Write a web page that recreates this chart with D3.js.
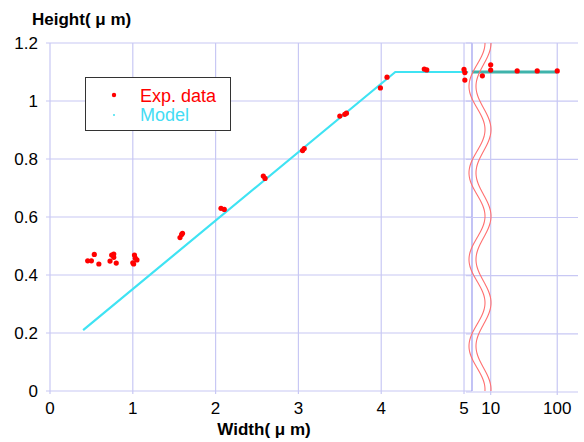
<!DOCTYPE html>
<html><head><meta charset="utf-8">
<script src="https://cdn.jsdelivr.net/npm/d3@7"></script>
<style>body{margin:0;background:#fff}svg{display:block}</style>
</head><body>
<svg id="c" width="584" height="442"></svg>
<script>
// ---- data ----
const yTicks = [0, 0.2, 0.4, 0.6, 0.8, 1, 1.2];
const xTicksLeft = [0, 1, 2, 3, 4, 5];
const xTicksRight = [10, 100];
// experimental data, linear panel (width 0..5.1 um)
const expX = [0.455,0.50,0.535,0.59,0.725,0.745,0.77,0.77,0.80,1.0,1.02,1.03,1.05,1.01,1.57,1.59,1.60,2.065,2.105,2.576,2.597,3.05,3.07,3.50,3.56,3.58,3.99,4.07,4.52,4.55,5.0,5.01,5.01];
const expY = [0.449,0.449,0.471,0.438,0.448,0.469,0.472,0.461,0.441,0.442,0.469,0.458,0.452,0.438,0.529,0.540,0.544,0.630,0.626,0.741,0.733,0.829,0.836,0.948,0.954,0.958,1.045,1.082,1.110,1.107,1.109,1.098,1.072];
// experimental data, log panel
const expXR = [7.5, 10, 10, 25, 50, 100];
const expYR = [1.087, 1.125, 1.107, 1.104, 1.104, 1.104];
// model
const modelX = [0.4, 4.17, 5.05];
const modelY = [0.21, 1.1, 1.1];
const modelXR = [5.24, 100];
const modelYR = [1.1, 1.1];

// ---- scales ----
const svg = d3.select("#c");
const xL = d3.scaleLinear().domain([0, 5.1]).range([50, 472.3]);
const xR = d3.scaleLog().domain([5.24, 205]).range([472, 578]);
const y = d3.scaleLinear().domain([0, 1.2]).range([391, 43]);
const yR = d3.scaleLinear().domain([0, 1.2]).range([392, 43]);

const grid = "#c8c8f4";
const font = "'Liberation Sans', Arial, sans-serif";

// left panel grid
const gL = svg.append("g");
gL.selectAll("line.h").data(yTicks).join("line")
  .attr("x1", 46).attr("x2", 472).attr("y1", d => y(d)).attr("y2", d => y(d))
  .attr("stroke", grid).attr("stroke-width", 1.2);
gL.selectAll("line.v").data(xTicksLeft).join("line")
  .attr("x1", d => xL(d)).attr("x2", d => xL(d)).attr("y1", 43).attr("y2", 394)
  .attr("stroke", grid).attr("stroke-width", 1.2);
gL.append("line").attr("x1", 472).attr("x2", 472).attr("y1", 43).attr("y2", 391)
  .attr("stroke", "#9a9aee").attr("stroke-width", 1.2);

// right panel grid
const gR = svg.append("g");
gR.selectAll("line.h").data(yTicks).join("line")
  .attr("x1", 466).attr("x2", 578).attr("y1", d => yR(d)).attr("y2", d => yR(d))
  .attr("stroke", grid).attr("stroke-width", 1.2);
gR.selectAll("line.v").data(xTicksRight).join("line")
  .attr("x1", d => xR(d)).attr("x2", d => xR(d)).attr("y1", 43).attr("y2", 395)
  .attr("stroke", grid).attr("stroke-width", 1.2);

// tick labels
svg.append("g").selectAll("text").data(yTicks).join("text")
  .attr("x", 38).attr("y", d => y(d)).attr("dy", "0.36em")
  .attr("text-anchor", "end").attr("font-family", font).attr("font-size", 17)
  .text(d => d3.format("~g")(d));
svg.append("g").selectAll("text").data(xTicksLeft).join("text")
  .attr("x", d => xL(d)).attr("y", 414)
  .attr("text-anchor", "middle").attr("font-family", font).attr("font-size", 17)
  .text(d => d);
svg.append("g").selectAll("text").data(xTicksRight).join("text")
  .attr("x", d => xR(d)).attr("y", 414)
  .attr("text-anchor", "middle").attr("font-family", font).attr("font-size", 17)
  .text(d => d);

// axis titles
svg.append("text").attr("x", 32).attr("y", 25).attr("font-family", font)
  .attr("font-size", 17).attr("font-weight", "bold").text("Height( μ m)");
svg.append("text").attr("x", 264).attr("y", 435).attr("text-anchor", "middle").attr("font-family", font)
  .attr("font-size", 17).attr("font-weight", "bold").text("Width( μ m)");

// model lines
const lineL = d3.line().x(d => xL(d[0])).y(d => y(d[1]));
svg.append("path").attr("d", lineL(d3.zip(modelX, modelY)))
  .attr("fill", "none").attr("stroke", "#3fe3f3").attr("stroke-width", 2.2);
const lineR = d3.line().x(d => xR(d[0])).y(d => yR(d[1]));
svg.append("path").attr("d", lineR(d3.zip(modelXR, modelYR)))
  .attr("fill", "none").attr("stroke", "#3fb3ab").attr("stroke-width", 3);

// exp points
svg.append("g").selectAll("circle").data(d3.zip(expX, expY)).join("circle")
  .attr("cx", d => xL(d[0])).attr("cy", d => y(d[1])).attr("r", 2.6).attr("fill", "#ff0000");
svg.append("g").selectAll("circle").data(d3.zip(expXR, expYR)).join("circle")
  .attr("cx", d => xR(d[0])).attr("cy", d => yR(d[1])).attr("r", 2.6).attr("fill", "#ff0000");

// break marks (wavy)
const period = 86.6;
const ys = d3.range(43, 392, 1);
[[477, 8], [483.5, 7.5]].forEach(([cx, amp]) => {
  const p = d3.line().curve(d3.curveBasis)
    .x(t => cx + amp * Math.cos(2 * Math.PI * (t - 43) / period)).y(t => t);
  svg.append("path").attr("d", p(ys)).attr("fill", "none")
    .attr("stroke", "#ff6f6f").attr("stroke-width", 1.1);
});

// legend
const lg = svg.append("g");
lg.append("rect").attr("x", 85.5).attr("y", 77.5).attr("width", 145).attr("height", 53)
  .attr("fill", "#fff").attr("stroke", "#333").attr("stroke-width", 1);
lg.append("circle").attr("cx", 114).attr("cy", 95).attr("r", 2.2).attr("fill", "#ff0000");
lg.append("circle").attr("cx", 114).attr("cy", 115).attr("r", 1).attr("fill", "#40e0f0");
lg.append("text").attr("x", 140).attr("y", 102).attr("font-family", font).attr("font-size", 18)
  .attr("fill", "#ff0000").text("Exp. data");
lg.append("text").attr("x", 140).attr("y", 121).attr("font-family", font).attr("font-size", 18)
  .attr("fill", "#44dcf4").text("Model");
</script>
</body></html>
